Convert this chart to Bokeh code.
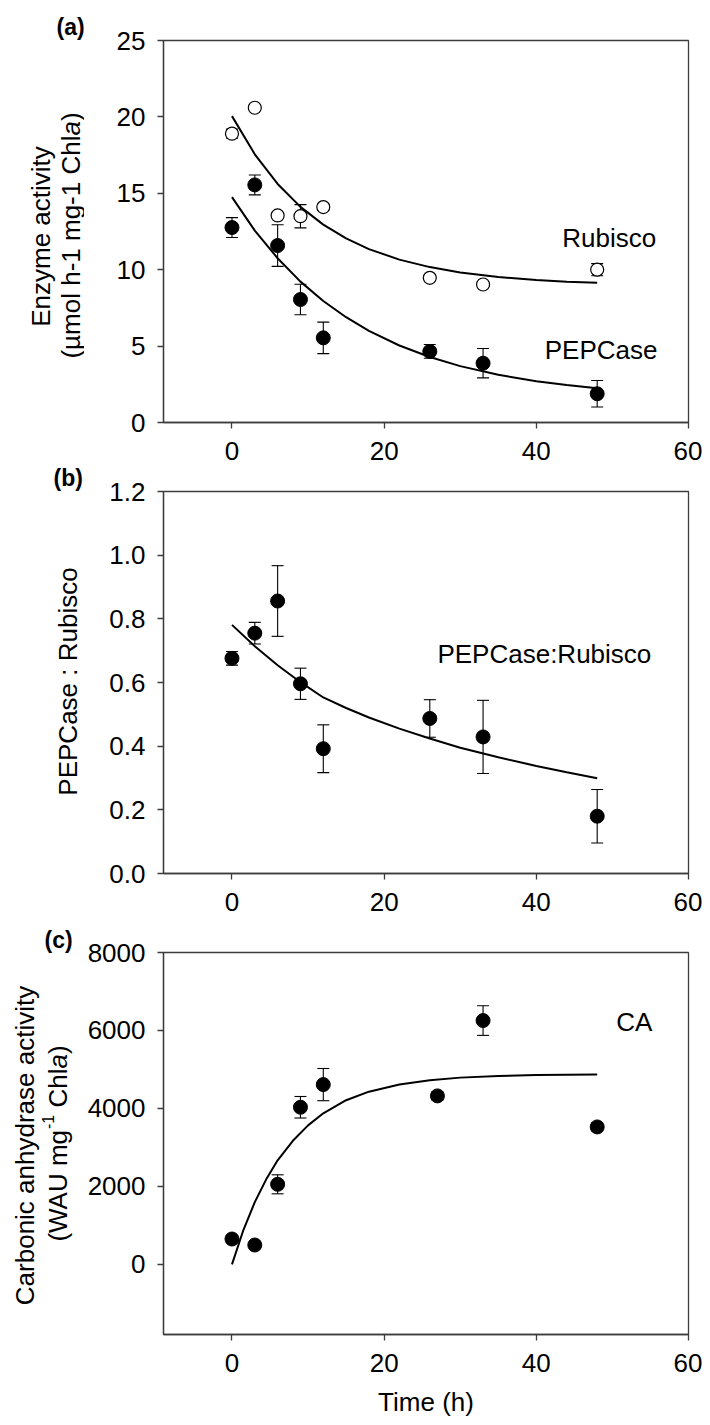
import math
from bokeh.plotting import figure
from bokeh.layouts import column, row
from bokeh.models import Label, Title, FixedTicker, NumeralTickFormatter
from bokeh.embed import file_html
from bokeh.resources import INLINE

# ---------------- data ----------------
# panel (a): enzyme activity (umol h-1 mg-1 Chla)
time_a = [0, 3, 6, 9, 12, 26, 33, 48]
rubisco = [18.9, 20.6, 13.55, 13.5, 14.1, 9.47, 9.03, 10.0]
rubisco_err = [0.3, 0.2, 0.2, 0.76, 0.2, 0.2, 0.2, 0.4]
pepcase = [12.76, 15.55, 11.58, 8.05, 5.54, 4.65, 3.88, 1.88]
pepcase_err = [0.65, 0.65, 1.36, 1.0, 1.03, 0.45, 0.96, 0.87]

# fitted curves
fit_t = [0, 3, 6, 9, 12, 15, 18, 22, 26, 30, 35, 40, 44, 48]
rubisco_fit = [20.05, 17.55, 15.61, 14.11, 12.95, 12.05, 11.35, 10.66, 10.17, 9.82, 9.52, 9.32, 9.21, 9.14]
pepcase_fit = [14.75, 12.56, 10.75, 9.22, 7.95, 6.89, 6.0, 5.04, 4.29, 3.69, 3.12, 2.70, 2.45, 2.24]

# panel (b): PEPCase : Rubisco ratio
time_b = [0, 3, 6, 9, 12, 26, 33, 48]
ratio = [0.676, 0.755, 0.856, 0.596, 0.392, 0.487, 0.429, 0.180]
ratio_err = [0.0215, 0.034, 0.111, 0.049, 0.075, 0.059, 0.115, 0.084]
ratio_fit = [0.781, 0.714, 0.654, 0.601, 0.553, 0.520, 0.490, 0.455, 0.424, 0.395, 0.365, 0.338, 0.318, 0.299]

# panel (c): carbonic anhydrase activity (WAU mg-1 Chla)
time_c = [0, 3, 6, 9, 12, 27, 33, 48]
ca = [650, 496, 2053, 4030, 4611, 4321, 6254, 3525]
ca_err = [80, 80, 244, 276, 413, 107, 380, 105]
ca_fit_t = [0, 1.5, 3, 4.5, 6, 8, 10, 12, 15, 18, 22, 26, 30, 35, 40, 48]
ca_fit = [0, 880, 1596, 2180, 2670, 3170, 3565, 3874, 4210, 4430, 4615, 4725, 4790, 4830, 4855, 4872]

x_ticks = [0, 20, 40, 60]

FONT = "Liberation Sans"
FRAME = "#3c3c3c"
ROT = math.pi / 2
FS = 26  # main font size (px)

TF_W = 84            # width of the left text column
P_W = 702 - TF_W     # width of the plot column


def make_fig(height, yr, top, bottom, yticks):
    p = figure(width=P_W, height=height, x_range=(-9, 60), y_range=yr,
               output_backend="svg", toolbar_location=None,
               min_border_left=76, min_border_right=14,
               min_border_top=top, min_border_bottom=bottom)
    p.grid.visible = False
    p.outline_line_color = FRAME
    p.outline_line_width = 1.3
    p.background_fill_color = "white"
    p.border_fill_color = "white"
    for ax in (p.xaxis[0], p.yaxis[0]):
        ax.axis_line_color = FRAME
        ax.axis_line_width = 1.3
        ax.major_tick_line_color = FRAME
        ax.major_tick_line_width = 1.3
        ax.major_tick_out = 6
        ax.major_tick_in = 0
        ax.minor_tick_out = 0
        ax.minor_tick_in = 0
        ax.major_label_text_font = FONT
        ax.major_label_text_font_size = f"{FS}px"
        ax.major_label_text_color = "black"
    p.xaxis.ticker = FixedTicker(ticks=x_ticks)
    p.yaxis.ticker = FixedTicker(ticks=yticks)
    p.xaxis.major_label_standoff = 13
    p.yaxis.major_label_standoff = 12
    return p


def text_fig(height, top, bottom, ftop, fbot, letter, letter_left, letter_standoff):
    """Axis-less figure whose frame spans the same page rows as the plot frame;
    its data coordinates are page pixels (y negated)."""
    t = figure(width=TF_W, height=height,
               x_range=(0, TF_W), y_range=(-fbot, -ftop),
               output_backend="svg", toolbar_location=None, title=None,
               x_axis_location=None, y_axis_location=None,
               min_border_left=0, min_border_right=0,
               min_border_top=top, min_border_bottom=bottom)
    t.grid.visible = False
    t.outline_line_color = None
    t.background_fill_color = "white"
    t.border_fill_color = "white"
    t.add_layout(Title(text=letter, align="left", offset=letter_left,
                       standoff=letter_standoff, vertical_align="bottom",
                       text_font=FONT, text_font_size="23px",
                       text_font_style="bold", text_color="black"), "above")
    return t


def errbars(p, xs, ys, es):
    lo = [y - e for y, e in zip(ys, es)]
    hi = [y + e for y, e in zip(ys, es)]
    p.segment(x0=xs, y0=lo, x1=xs, y1=hi, line_color="black", line_width=1.1)
    p.scatter(x=xs, y=lo, marker="dash", size=12, line_color="black", line_width=1.1)
    p.scatter(x=xs, y=hi, marker="dash", size=12, line_color="black", line_width=1.1)


def lab(p, x, y, text, size=f"{FS}px", align="left", baseline="middle", angle=0.0,
        style="normal"):
    p.add_layout(Label(x=x, y=y, text=text, text_font=FONT, text_font_size=size,
                       text_align=align, text_baseline=baseline, angle=angle,
                       text_font_style=style, text_color="black"))


def put(t, px, py, text, **kw):
    lab(t, px, -py, text, **kw)


# plot frames on the page: (a) 40..422, (b) 491..873, (c) 952..1334

# ---------------- left text column ----------------
tfa = text_fig(461, 40, 39, 40, 422, "(a)", 56, 2)
tfb = text_fig(461, 30, 49, 491, 873, "(b)", 53, 2)
tfc = text_fig(502, 30, 90, 952, 1334, "(c)", 44, 0)

put(tfa, 40, 236, "Enzyme activity", align="center", angle=ROT)
w1, w2, w3 = 8.577 * FS, 0.556 * FS, 0.333 * FS
ybot = 235 + (w1 + w2 + w3) / 2
put(tfa, 70, ybot, "(µmol h-1 mg-1 Chl", angle=ROT)
put(tfa, 70, ybot - w1, "a", angle=ROT, style="italic")
put(tfa, 70, ybot - w1 - w2, ")", angle=ROT)

put(tfb, 67, 681, "PEPCase : Rubisco", align="center", angle=ROT)

put(tfc, 24, 1145, "Carbonic anhydrase activity", align="center", angle=ROT)
SUP = 16
s1 = 4.333 * FS             # "(WAU mg"
s2 = (0.333 + 0.556) * SUP  # superscript "-1"
sp = 0.278 * FS             # space
s3 = 1.5 * FS               # "Chl"
s4 = 0.556 * FS             # italic "a"
s5 = 0.333 * FS             # ")"
yb = 1143 + (s1 + s2 + sp + s3 + s4 + s5) / 2
put(tfc, 57, yb, "(WAU mg", angle=ROT)
put(tfc, 47, yb - s1, "-1", size=f"{SUP}px", angle=ROT)
put(tfc, 57, yb - s1 - s2 - sp, "Chl", angle=ROT)
put(tfc, 57, yb - s1 - s2 - sp - s3, "a", angle=ROT, style="italic")
put(tfc, 57, yb - s1 - s2 - sp - s3 - s4, ")", angle=ROT)

# ---------------- panel (a) ----------------
pa = make_fig(471, (0, 25), 40, 49, [0, 5, 10, 15, 20, 25])
pa.line(fit_t, rubisco_fit, line_color="black", line_width=2)
pa.line(fit_t, pepcase_fit, line_color="black", line_width=2)
errbars(pa, time_a, rubisco, rubisco_err)
errbars(pa, time_a, pepcase, pepcase_err)
pa.scatter(time_a, rubisco, marker="circle", size=13, fill_color="white",
           line_color="black", line_width=1.2)
pa.scatter(time_a, pepcase, marker="circle", size=14, fill_color="black",
           line_color="black")
lab(pa, 43.4, 12.1, "Rubisco")
lab(pa, 41.1, 4.75, "PEPCase")

# ---------------- panel (b) ----------------
pb = make_fig(451, (0, 1.2), 20, 49, [0, 0.2, 0.4, 0.6, 0.8, 1.0, 1.2])
pb.yaxis.formatter = NumeralTickFormatter(format="0.0")
pb.line(fit_t, ratio_fit, line_color="black", line_width=2)
errbars(pb, time_b, ratio, ratio_err)
pb.scatter(time_b, ratio, marker="circle", size=14, fill_color="black", line_color="black")
lab(pb, 27.0, 0.689, "PEPCase:Rubisco")

# ---------------- panel (c) ----------------
pc = make_fig(502, (-1800, 8000), 30, 90, [0, 2000, 4000, 6000, 8000])
pc.line(ca_fit_t, ca_fit, line_color="black", line_width=2)
errbars(pc, time_c, ca, ca_err)
pc.scatter(time_c, ca, marker="circle", size=14, fill_color="black", line_color="black")
lab(pc, 50.5, 6229, "CA")
pc.xaxis.axis_label = "Time (h)"
pc.xaxis.axis_label_text_font = FONT
pc.xaxis.axis_label_text_font_size = f"{FS}px"
pc.xaxis.axis_label_text_font_style = "normal"
pc.xaxis.axis_label_text_color = "black"
pc.xaxis.axis_label_standoff = 12

layout = row(column(tfa, tfb, tfc), column(pa, pb, pc))
open("out.html", "w").write(file_html(layout, INLINE))
